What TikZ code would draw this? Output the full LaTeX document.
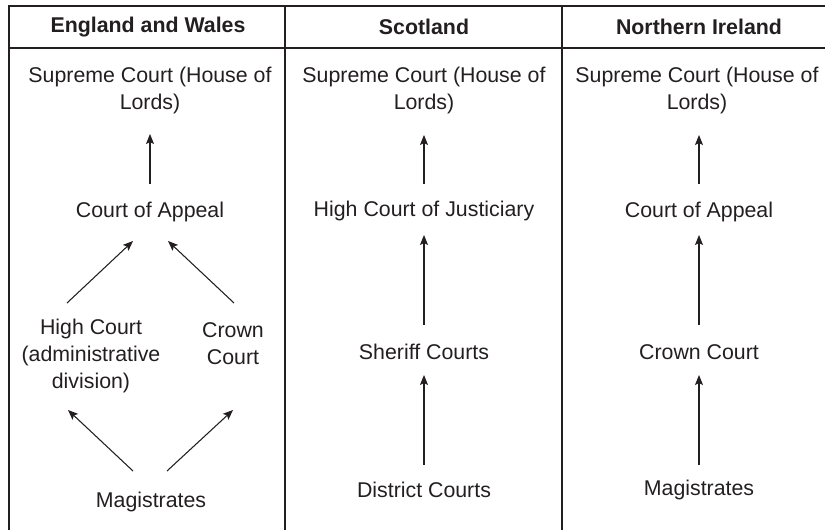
\documentclass[tikz,border=0pt]{standalone}
\usepackage{fontspec}
\setmainfont{Liberation Sans}
\usetikzlibrary{arrows.meta}
\definecolor{ink}{HTML}{231F20}

\begin{document}
\begin{tikzpicture}[x=0.75pt,y=-0.75pt,
   court/.style={font=\fontsize{16}{20.25}\selectfont, align=center, inner sep=0pt, text=ink},
   head/.style={court, font=\fontsize{16}{20.25}\selectfont\bfseries},
   up/.style={draw=ink, line width=0.8pt, -{Stealth[length=7.5pt,width=6pt,inset=1.5pt]}},
   rule/.style={draw=ink, line width=1.2pt}]
   \useasboundingbox (0,0) rectangle (826,530);

   % table rules
   \draw[rule] (825,6) -- (9,6) -- (9,530);
   \draw[rule] (9,48) -- (825,48);
   \draw[rule] (285,6) -- (285,530) (562,6) -- (562,530);

   % headers
   \node[head] (ew) at (148,27) {England and Wales};
   \node[head] (sco) at (424,27) {Scotland};
   \node[head] (ni) at (699,27) {Northern Ireland};

   % England and Wales
   \node[court] (sc1) at (150,90.5) {Supreme Court (House of\\Lords)};
   \node[court] (ca1) at (150,212) {Court of Appeal};
   \node[court] (hc1) at (91,356) {High Court\\(administrative\\division)};
   \node[court] (cc1) at (233,344) {Crown\\Court};
   \node[court] (mg1) at (151,502) {Magistrates};

   \draw[up] ([shift={(-18,-31)}]mg1.center) -- ([shift={(-23,54)}]hc1.center);
   \draw[up] ([shift={(16,-31)}]mg1.center) -- ([shift={(0,66)}]cc1.center);
   \draw[up] ([shift={(-24,-53)}]hc1.center) -- ([shift={(-17,29)}]ca1.center);
   \draw[up] ([shift={(1,-41)}]cc1.center) -- ([shift={(18,29)}]ca1.center);
   \draw[up] ([shift={(0,-28)}]ca1.center) -- ([shift={(0,43.5)}]sc1.center);

   % Scotland
   \node[court] (sc2) at (424,90.5) {Supreme Court (House of\\Lords)};
   \node[court] (hcj) at (424,211) {High Court of Justiciary};
   \node[court] (sh) at (424,352) {Sheriff Courts};
   \node[court] (dc) at (424,490) {District Courts};

   \draw[up] ([shift={(0,-27)}]hcj.center) -- ([shift={(0,44.5)}]sc2.center);
   \draw[up] ([shift={(0,-27)}]sh.center) -- ([shift={(0,24)}]hcj.center);
   \draw[up] ([shift={(0,-25)}]dc.center) -- ([shift={(0,23)}]sh.center);

   % Northern Ireland
   \node[court] (sc3) at (697,90.5) {Supreme Court (House of\\Lords)};
   \node[court] (ca3) at (699,212) {Court of Appeal};
   \node[court] (cc3) at (699,352) {Crown Court};
   \node[court] (mg3) at (699,490) {Magistrates};

   \draw[up] ([shift={(0,-28)}]ca3.center) -- ([shift={(2,44.5)}]sc3.center);
   \draw[up] ([shift={(0,-27)}]cc3.center) -- ([shift={(0,23)}]ca3.center);
   \draw[up] ([shift={(0,-25)}]mg3.center) -- ([shift={(0,23)}]cc3.center);
\end{tikzpicture}
\end{document}
